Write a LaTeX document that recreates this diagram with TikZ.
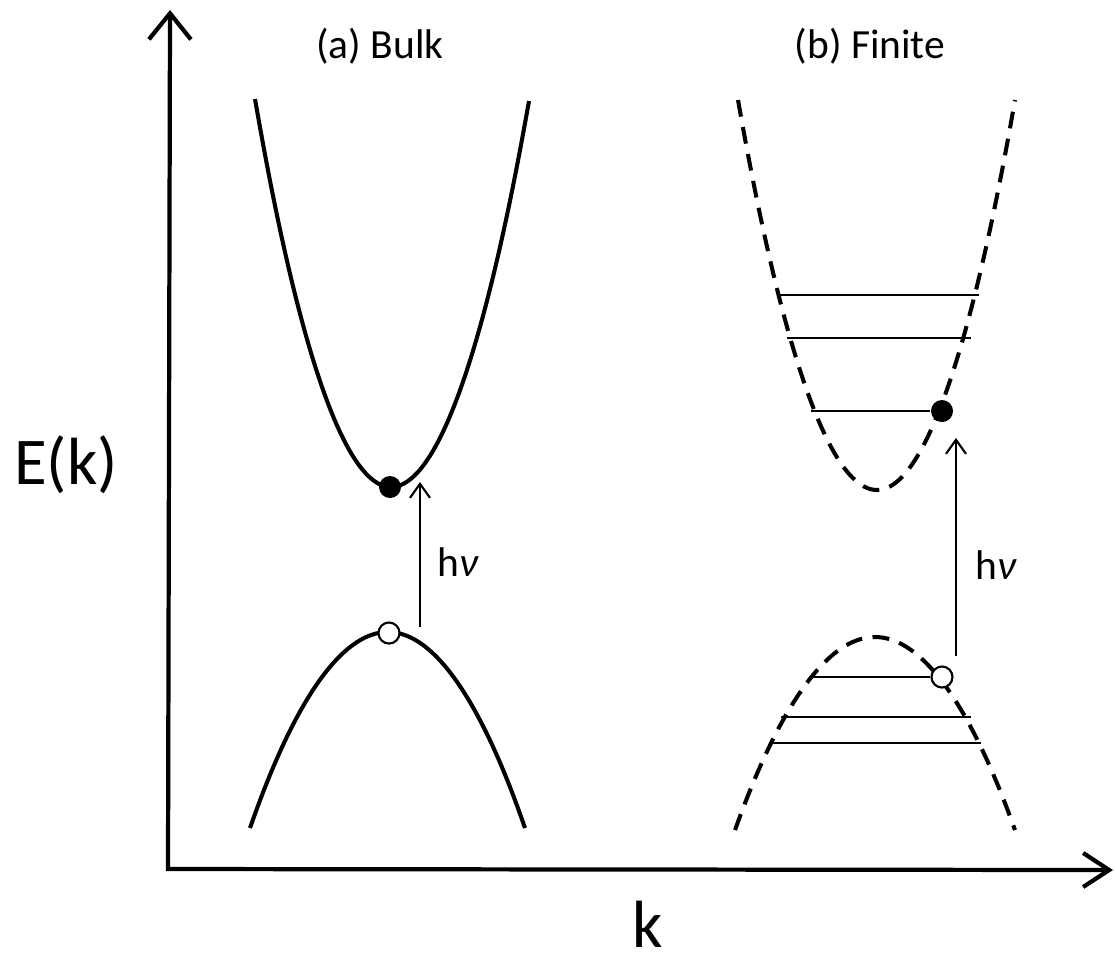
\documentclass[tikz,border=0pt]{standalone}
\usepackage{fontspec}
\setmainfont{Carlito}
\usetikzlibrary{arrows.meta}

\begin{document}
\begin{tikzpicture}[
    x=0.01cm, y=-0.01cm,
    axis/.style={line width=1.2pt, {Straight Barb[length=2.6mm, width=4.2mm, line width=1.2pt]}-{Straight Barb[length=2.6mm, width=3.4mm, line width=1.2pt]}},
    band/.style={line width=1.15pt},
    dashband/.style={band, dash pattern=on 4.8pt off 3pt},
    level/.style={line width=0.65pt},
    photon/.style={line width=0.6pt, -{Straight Barb[length=1.4mm, width=2mm, line width=0.6pt]}},
    elec/.style={circle, fill=black, inner sep=0pt, minimum size=0.22cm},
    hole/.style={circle, draw=black, fill=white, line width=0.6pt, inner sep=0pt, minimum size=0.21cm},
    lab/.style={font=\fontsize{11.8}{14}\selectfont},
    big/.style={font=\fontsize{19}{22}\selectfont}
  ]
    \useasboundingbox (0,0) rectangle (1115,959);

    % axes
    \coordinate (ytop) at (170,10);
    \coordinate (origin) at (168,869);
    \coordinate (xend) at (1113,870);
    \draw[axis] (ytop) -- (origin) -- (xend);
    \node[big] (Ek) at (66,465) {E(k)};
    \node[big] (kk) at (648,924) {k};

    % titles
    \node[lab] (ta) at (380,46) {(a) Bulk};
    \node[lab] (tb) at (870,46) {(b) Finite};

    % (a) bulk bands
    \draw[band] (255,99) parabola bend (391,487) (529,101);
    \draw[band] (250,828) parabola bend (388,632) (525,828);
    \node[elec] (eA) at (390,487) {};
    \node[hole] (hA) at (389,633) {};
    \coordinate (pA0) at (420,627);
    \coordinate (pA1) at (420,482);
    \draw[photon] (pA0) -- (pA1);
    \node[lab] (hvA) at (458,562) {h\textit{ν}};

    % (b) finite bands
    \draw[dashband] (738,100) parabola bend (877,490) (1015,100);
    \draw[dashband] (735,830) parabola bend (875,637) (1015,830);
    \node[elec] (eB) at (942,411) {};
    \node[hole] (hB) at (942,677) {};
    \draw[level] (777,295) -- (979,295);
    \draw[level] (787,338) -- (971,338);
    \draw[level] (811,411) -- (eB);
    \draw[level] (809,677) -- (hB);
    \draw[level] (781,717) -- (971,717);
    \draw[level] (770,743) -- (981,743);
    \coordinate (pB0) at (956,656);
    \coordinate (pB1) at (956,438);
    \draw[photon] (pB0) -- (pB1);
    \node[lab] (hvB) at (996,565) {h\textit{ν}};
\end{tikzpicture}
\end{document}
